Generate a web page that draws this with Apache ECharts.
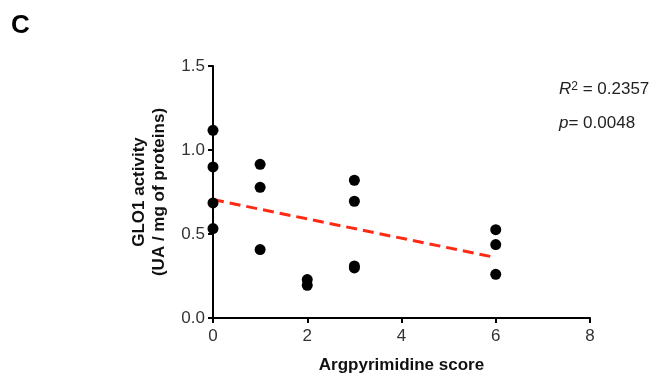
<!DOCTYPE html>
<html>
<head>
<meta charset="utf-8">
<script src="https://cdn.jsdelivr.net/npm/echarts@6/dist/echarts.min.js"></script>
<style>
html, body { margin: 0; padding: 0; background: #fff; }
#main { width: 652px; height: 376px; }
</style>
</head>
<body>
<div id="main"></div>
<script>
// argpyrimidine score vs GLO1 activity
var scoreX = [0, 0, 0, 0, 1, 1, 1, 2, 2, 3, 3, 3, 3, 6, 6, 6];
var gloY = [1.117, 0.899, 0.685, 0.532, 0.915, 0.778, 0.407, 0.229, 0.195, 0.82, 0.695, 0.31, 0.298, 0.526, 0.437, 0.26];
// fitted line end points
var fitX = [0, 6];
var fitY = [0.705, 0.36];

var chart = echarts.init(document.getElementById('main'));

var points = [];
for (var i = 0; i < scoreX.length; i++) {
	points.push([scoreX[i], gloY[i]]);
}
var fit = [];
for (var j = 0; j < fitX.length; j++) {
	fit.push([fitX[j], fitY[j]]);
}

var font = 'Liberation Sans, Arial, sans-serif';

chart.setOption({
	animation: false,
	grid: {
		left: 213,
		right: 62,
		top: 66,
		bottom: 58,
		outerBoundsMode: 'none'
	},
	graphic: [{
		type: 'text',
		left: 11,
		top: 13,
		style: {
			text: 'C',
			font: 'bold 26px ' + font,
			fill: '#000'
		}
	}, {
		type: 'text',
		left: 559,
		top: 81,
		style: {
			text: '{i|R}{s|2}{n| = 0.2357}',
			rich: {
				i: { fontStyle: 'italic', fontSize: 17, fontFamily: font, fill: '#222' },
				s: { fontSize: 12, fontFamily: font, verticalAlign: 'top', fill: '#222' },
				n: { fontSize: 17, fontFamily: font, fill: '#222' }
			}
		}
	}, {
		type: 'text',
		left: 559,
		top: 115,
		style: {
			text: '{i|p}{n|= 0.0048}',
			rich: {
				i: { fontStyle: 'italic', fontSize: 17, fontFamily: font, fill: '#222' },
				n: { fontSize: 17, fontFamily: font, fill: '#222' }
			}
		}
	}],
	xAxis: {
		type: 'value',
		min: 0,
		max: 8,
		interval: 2,
		name: 'Argpyrimidine score',
		nameLocation: 'middle',
		nameGap: 39,
		nameMoveOverlap: false,
		nameTextStyle: {
			fontFamily: font,
			fontWeight: 'bold',
			fontSize: 17,
			color: '#111'
		},
		splitLine: { show: false },
		axisLine: { lineStyle: { color: '#000', width: 2 } },
		axisTick: { lineStyle: { color: '#000', width: 2 }, length: 5 },
		axisLabel: {
			fontFamily: font,
			fontSize: 17,
			color: '#333',
			margin: 10
		}
	},
	yAxis: {
		type: 'value',
		min: 0,
		max: 1.5,
		interval: 0.5,
		name: 'GLO1 activity\n(UA / mg of proteins)',
		nameLocation: 'middle',
		nameGap: 44,
		nameMoveOverlap: false,
		nameTextStyle: {
			fontFamily: font,
			fontWeight: 'bold',
			fontSize: 17,
			color: '#111',
			lineHeight: 20
		},
		splitLine: { show: false },
		axisLine: { show: true, lineStyle: { color: '#000', width: 2 } },
		axisTick: { show: true, lineStyle: { color: '#000', width: 2 }, length: 5 },
		axisLabel: {
			fontFamily: font,
			fontSize: 17,
			color: '#333',
			margin: 8,
			formatter: function (v) { return v.toFixed(1); }
		}
	},
	series: [{
		type: 'line',
		data: fit,
		symbol: 'none',
		lineStyle: {
			color: '#ff2a14',
			width: 3,
			type: [11, 6]
		},
		z: 1
	}, {
		type: 'scatter',
		data: points,
		symbolSize: 11,
		itemStyle: { color: '#000', opacity: 1 },
		z: 2
	}]
});
</script>
</body>
</html>
